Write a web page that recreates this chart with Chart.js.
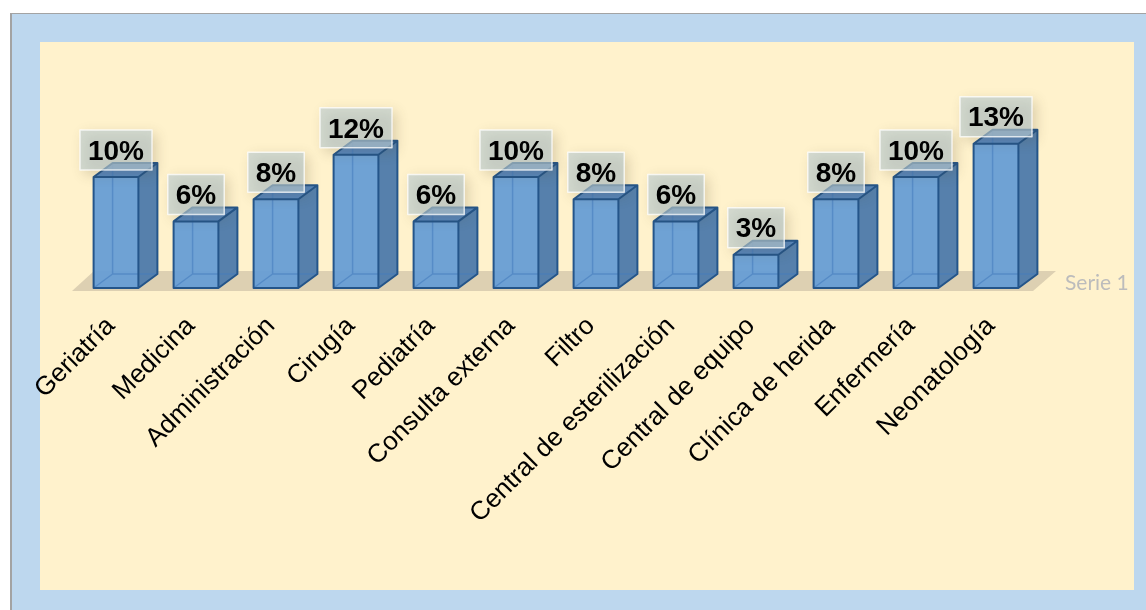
<!DOCTYPE html>
<html>
<head>
<meta charset="utf-8">
<script src="https://cdn.jsdelivr.net/npm/chart.js@4"></script>
<style>
  html, body { margin: 0; padding: 0; background: #ffffff; }
  #frame {
    position: absolute; left: 10px; top: 13px;
    width: 1136px; height: 597px;
    border-left: 2px solid #a3a3a3; border-top: 1px solid #a3a3a3;
    background: #bdd7ee;
  }
  #panel {
    position: absolute; left: 28px; top: 28px;
    width: 1094px; height: 548px;
    background: #fff2cc;
  }
  #chart { position: absolute; left: 0; top: 28px; }
</style>
</head>
<body>
<div id="frame">
  <div id="panel"></div>
  <canvas id="chart" width="1134" height="548"></canvas>
</div>
<script>
const categories = ['Geriatría', 'Medicina', 'Administración', 'Cirugía', 'Pediatría',
  'Consulta externa', 'Filtro', 'Central de esterilización', 'Central de equipo',
  'Clínica de herida', 'Enfermería', 'Neonatología'];
const percents = [10, 6, 8, 12, 6, 10, 8, 6, 3, 8, 10, 13];
const seriesName = 'Serie 1';

const FONT = '"Liberation Sans", Arial, sans-serif';
const DX = 19, DY = -14;   // depth of the 3d boxes

// floor under the bars + 3d faces + value boxes
const bars3d = {
  id: 'bars3d',
  beforeDatasetsDraw(chart) {
    const { ctx, chartArea } = chart;
    const base = chart.scales.y.getPixelForValue(0) + 3;
    ctx.save();
    ctx.fillStyle = '#ddd0b2';
    ctx.beginPath();
    ctx.moveTo(chartArea.left - 4, base);
    ctx.lineTo(chartArea.right - 3, base);
    ctx.lineTo(chartArea.right + 20, base - 20);
    ctx.lineTo(chartArea.left + 18, base - 20);
    ctx.closePath();
    ctx.fill();
    ctx.restore();
  },
  afterDatasetsDraw(chart) {
    const { ctx } = chart;
    const meta = chart.getDatasetMeta(0);
    const values = chart.data.datasets[0].data;
    ctx.save();
    meta.data.forEach((bar) => {
      const p = bar.getProps(['x', 'y', 'base', 'width'], true);
      const l = p.x - p.width / 2, r = p.x + p.width / 2, t = p.y, b = p.base;
      // side
      ctx.fillStyle = '#5680ac';
      ctx.beginPath();
      ctx.moveTo(r, t); ctx.lineTo(r + DX, t + DY); ctx.lineTo(r + DX, b + DY); ctx.lineTo(r, b);
      ctx.closePath(); ctx.fill();
      // top
      ctx.fillStyle = '#5887bd';
      ctx.beginPath();
      ctx.moveTo(l, t); ctx.lineTo(l + DX, t + DY); ctx.lineTo(r + DX, t + DY); ctx.lineTo(r, t);
      ctx.closePath(); ctx.fill();
      // back edges seen through the glass front
      ctx.strokeStyle = 'rgba(70,125,190,0.6)';
      ctx.lineWidth = 1.5;
      ctx.beginPath();
      ctx.moveTo(l + DX, t + DY); ctx.lineTo(l + DX, b + DY); ctx.lineTo(r + DX, b + DY);
      ctx.moveTo(l, b); ctx.lineTo(l + DX, b + DY);
      ctx.stroke();
      // outlines
      ctx.strokeStyle = '#24558a';
      ctx.lineWidth = 2;
      ctx.lineJoin = 'round';
      ctx.beginPath();
      ctx.rect(l, t, r - l, b - t);
      ctx.moveTo(l, t); ctx.lineTo(l + DX, t + DY); ctx.lineTo(r + DX, t + DY);
      ctx.lineTo(r + DX, b + DY); ctx.lineTo(r, b);
      ctx.moveTo(r, t); ctx.lineTo(r + DX, t + DY);
      ctx.stroke();
    });
    // value boxes
    ctx.font = 'bold 28px ' + FONT;
    ctx.textAlign = 'center';
    ctx.textBaseline = 'middle';
    meta.data.forEach((bar, i) => {
      const p = bar.getProps(['x', 'y'], true);
      const txt = values[i] + '%';
      const w = ctx.measureText(txt).width + 16;
      const h = 40;
      const bx = p.x - w / 2, by = p.y - 7 - h;
      ctx.save();
      ctx.shadowColor = 'rgba(80,70,40,0.35)';
      ctx.shadowBlur = 12;
      ctx.shadowOffsetX = 4;
      ctx.shadowOffsetY = 4;
      ctx.fillStyle = 'rgba(185,203,210,0.62)';
      ctx.fillRect(bx, by, w, h);
      ctx.restore();
      ctx.strokeStyle = 'rgba(255,255,255,0.75)';
      ctx.lineWidth = 1.5;
      ctx.strokeRect(bx, by, w, h);
      ctx.fillStyle = '#000000';
      ctx.fillText(txt, p.x, by + h / 2 + 2);
    });
    // series name at the right end of the floor
    ctx.font = '21px Lato, "Open Sans", sans-serif';
    ctx.textAlign = 'left';
    ctx.fillStyle = '#bcbcbc';
    ctx.fillText(chart.data.datasets[0].label, chart.chartArea.right + 29,
      chart.scales.y.getPixelForValue(0) - 5);
    ctx.restore();
  }
};

new Chart(document.getElementById('chart'), {
  type: 'bar',
  data: {
    labels: categories,
    datasets: [{
      label: seriesName,
      data: percents,
      backgroundColor: 'rgba(102,156,212,0.94)',
      borderWidth: 0,
      barPercentage: 0.56,
      categoryPercentage: 1
    }]
  },
  options: {
    responsive: false,
    animation: false,
    layout: { padding: { left: 64, right: 110, top: 24, bottom: 0 } },
    plugins: { legend: { display: false }, tooltip: { enabled: false } },
    scales: {
      x: {
        grid: { display: false, drawTicks: false },
        border: { display: false },
        ticks: {
          color: '#000000',
          font: { family: FONT, size: 26 },
          minRotation: 45,
          maxRotation: 45,
          padding: 23,
          labelOffset: -5,
          autoSkip: false
        },
        afterFit(scale) {
          scale.height = 302;
          scale.paddingLeft = 0;
          scale.paddingRight = 0;
        }
      },
      y: {
        display: false,
        min: 0,
        max: 20
      }
    }
  },
  plugins: [bars3d]
});
</script>
</body>
</html>
